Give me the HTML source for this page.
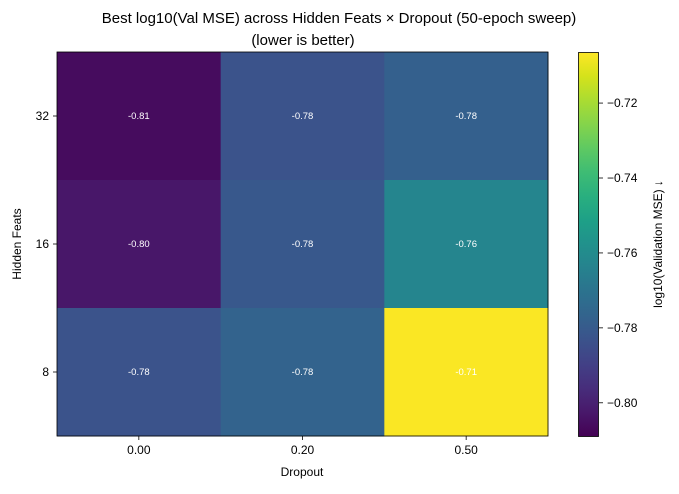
<!DOCTYPE html>
<html><head><meta charset="utf-8"><style>
body{margin:0;background:#fff;}
svg text{font-family:"Liberation Sans","DejaVu Sans",sans-serif;}
</style></head><body>
<svg id="chart" width="679" height="489" xmlns="http://www.w3.org/2000/svg">
<defs><linearGradient id="cbgrad" x1="0" y1="1" x2="0" y2="0"></linearGradient></defs>
<text x="339" y="23" text-anchor="middle" font-size="15">Best log10(Val MSE) across Hidden Feats × Dropout (50-epoch sweep)</text>
<text x="303" y="45" text-anchor="middle" font-size="15">(lower is better)</text>
<g id="cells"></g>
<g id="axes"></g>
<text x="302" y="476" text-anchor="middle" font-size="12">Dropout</text>
<text transform="translate(21,244) rotate(-90)" text-anchor="middle" font-size="12">Hidden Feats</text>
<rect x="578.5" y="52.5" width="20" height="384" fill="url(#cbgrad)" stroke="#000" stroke-width="0.8"/>
<g id="cbticks"></g>
<text transform="translate(662,244) rotate(-90)" text-anchor="middle" font-size="12">log10(Validation MSE) ↓</text>
</svg>
<script>
const xCategories = ["0.00","0.20","0.50"];
const yCategories = ["32","16","8"];
const row32 = [-0.806,-0.783,-0.778];
const row16 = [-0.803,-0.781,-0.763];
const row8 = [-0.783,-0.777,-0.707];
const valueLabels32 = ["-0.81","-0.78","-0.78"];
const valueLabels16 = ["-0.80","-0.78","-0.76"];
const valueLabels8 = ["-0.78","-0.78","-0.71"];
const cbTicks = [-0.72,-0.74,-0.76,-0.78,-0.80];
const cbTickLabels = ["−0.72","−0.74","−0.76","−0.78","−0.80"];
const vmin = -0.809, vmax = -0.7065;

const NS="http://www.w3.org/2000/svg";
const plot={x:57,y:52,w:491,h:384};
const cbox={y:52.5,h:384};
const vir=[[68,1,84],[72,24,106],[71,45,123],[66,64,134],[59,82,139],[51,99,141],[44,114,142],[38,130,142],[33,145,140],[30,160,135],[41,175,127],[62,188,116],[94,201,98],[132,212,75],[170,220,50],[212,226,27],[253,231,37]];
function color(v){let t=Math.max(0,Math.min(1,(v-vmin)/(vmax-vmin)))*(vir.length-1);let i=Math.min(Math.floor(t),vir.length-2),f=t-i;const c=vir[i].map((a,k)=>Math.round(a+(vir[i+1][k]-a)*f));return `rgb(${c})`;}
function xPos(i){return plot.x+i*plot.w/xCategories.length;}
function yPos(j){return plot.y+j*plot.h/yCategories.length;}
function cbY(v){return cbox.y+(vmax-v)/(vmax-vmin)*cbox.h;}
function mk(tag,attrs,parent){const e=document.createElementNS(NS,tag);for(const k in attrs)e.setAttribute(k,attrs[k]);parent.appendChild(e);return e;}

const grad=document.getElementById("cbgrad");
vir.forEach((c,i)=>{mk("stop",{offset:(i/(vir.length-1)),"stop-color":`rgb(${c})`},grad);});

const rows=[row32,row16,row8], labs=[valueLabels32,valueLabels16,valueLabels8];
const cells=document.getElementById("cells");
const cw=plot.w/xCategories.length, ch=plot.h/yCategories.length;
rows.forEach((row,j)=>row.forEach((v,i)=>{
  const r=mk("rect",{x:xPos(i),y:yPos(j),width:cw+0.5,height:ch+0.5,fill:color(v)},cells);
  
  
  const t=mk("text",{x:xPos(i)+cw/2,y:yPos(j)+ch/2+3,"text-anchor":"middle","font-size":"9.5",fill:"#fff"},cells);
  
  
  t.textContent=labs[j][i];
}));
const axes=document.getElementById("axes");
const fr=mk("rect",{x:plot.x,y:plot.y,width:plot.w,height:plot.h,fill:"none",stroke:"#000","stroke-width":0.8},axes);


xCategories.forEach((c,i)=>{
  const x=xPos(i)+cw/2;
  mk("line",{x1:x,x2:x,y1:plot.y+plot.h,y2:plot.y+plot.h+4,stroke:"#000","stroke-width":0.8},axes);
  const t=mk("text",{x:x,y:plot.y+plot.h+18,"text-anchor":"middle","font-size":"12"},axes);
  
  
  t.textContent=c;
});
yCategories.forEach((c,j)=>{
  const y=yPos(j)+ch/2;
  mk("line",{x1:plot.x-4,x2:plot.x,y1:y,y2:y,stroke:"#000","stroke-width":0.8},axes);
  const t=mk("text",{x:plot.x-8,y:y+4,"text-anchor":"end","font-size":"12"},axes);
  
  
  t.textContent=c;
});
const cbt=document.getElementById("cbticks");
cbTicks.forEach((v,i)=>{
  const y=cbY(v);
  mk("line",{x1:599,x2:603,y1:y,y2:y,stroke:"#000","stroke-width":0.8},cbt);
  const t=mk("text",{x:607,y:y+4,"font-size":"12"},cbt);
  
  
  t.textContent=cbTickLabels[i];
});
</script>
</body></html>
